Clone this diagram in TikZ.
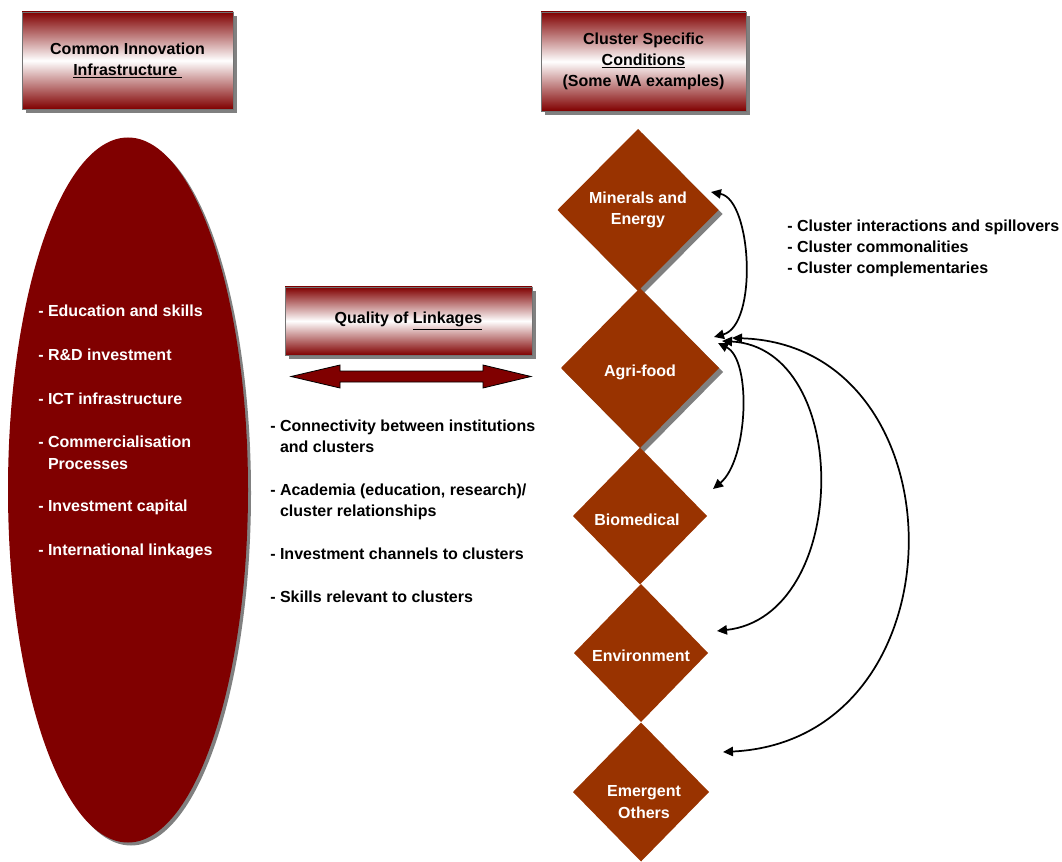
\documentclass[tikz,border=0pt]{standalone}
\usepackage{fontspec}
\setmainfont{Liberation Sans}
\usetikzlibrary{shapes.geometric,arrows.meta,shadows,calc}
\definecolor{maroonfill}{RGB}{128,0,0}
\definecolor{rust}{RGB}{153,51,0}
\definecolor{shadowgray}{RGB}{128,128,128}
\begin{document}
\begin{tikzpicture}[x=0.75pt,y=-0.75pt,
  font=\fontsize{12pt}{16pt}\selectfont\bfseries,
  grayshadow/.style={drop shadow={opacity=1,fill=shadowgray,shadow xshift=#1,shadow yshift=-#1}},
  headbox/.style={rectangle,top color=maroonfill,bottom color=maroonfill,middle color=white,
    draw=black!55,line width=0.4pt,align=center,inner sep=0pt,grayshadow=3pt},
  cluster/.style={diamond,shape aspect=1,fill=rust,inner sep=0pt,outer sep=0pt},
  clustertext/.style={text=white,align=center,inner sep=0pt},
  item/.style={anchor=base west,inner sep=0pt},
  link/.style={{Triangle[length=7.5pt,width=7pt]}-{Triangle[length=7.5pt,width=7pt]},line width=1.3pt}]
\useasboundingbox (0,0) rectangle (1062,862);

% heading boxes
\node[headbox,minimum width=158.25pt,minimum height=72.75pt] (hinfra) at (127.5,60.5)
  {Common Innovation\\\underline{Infrastructure\ }};
\node[headbox,minimum width=153.75pt,minimum height=74.25pt] (hcluster) at (643.5,61.5)
  {Cluster Specific\\\underline{Conditions}\\(Some WA examples)};
\node[headbox,minimum width=185.25pt,minimum height=51pt] (hlink) at (408.5,321)
  {Quality of \underline{Linkages}};

% common infrastructure ellipse
\node[ellipse,fill=maroonfill,minimum width=180pt,minimum height=528.75pt,inner sep=0pt,grayshadow=2.25pt]
  (infra) at (128,490) {};
\begin{scope}[text=white]
\node[item] (e1) at (38,317) {- Education and skills};
\node[item] (e2) at (38,361) {- R\&D investment};
\node[item] (e3) at (38,404) {- ICT infrastructure};
\node[item] (e4) at (38,447) {- Commercialisation};
\node[item] (e5) at (47.8,469) {Processes};
\node[item] (e6) at (38,511) {- Investment capital};
\node[item] (e7) at (38,555) {- International linkages};
\end{scope}

% double block arrow under the linkages box
\draw[fill=maroonfill,draw=black,line width=0.6pt]
  (291,376.5) -- (340,365) -- (340,371) -- (483,371) -- (483,365) -- (531,376.5)
  -- (483,388) -- (483,382) -- (340,382) -- (340,388) -- cycle;

% linkage items
\node[item] (l1) at (270,431) {- Connectivity between institutions};
\node[item] (l2) at (279.8,452) {and clusters};
\node[item] (l3) at (270,495) {- Academia (education, research)/};
\node[item] (l4) at (279.8,516) {cluster relationships};
\node[item] (l5) at (270,559) {- Investment channels to clusters};
\node[item] (l6) at (270,602) {- Skills relevant to clusters};

% clusters
\node[cluster,minimum width=120.75pt,minimum height=121.5pt,grayshadow=3pt] (min) at (638,210) {};
\node[cluster,minimum width=118.5pt,minimum height=120pt,grayshadow=3pt] (agri) at (640,368) {};
\node[cluster,minimum width=100.5pt,minimum height=102.75pt] (bio) at (640,516) {};
\node[cluster,minimum width=100.5pt,minimum height=103.5pt] (env) at (641,653) {};
\node[cluster,minimum width=102pt,minimum height=104.25pt] (emg) at (641,792) {};
\node[clustertext] (minT) at ($(min.center)+(0,0)$) {Minerals and\\Energy};
\node[clustertext] (agriT) at ($(agri.center)+(0,4)$) {Agri-food};
\node[clustertext] (bioT) at ($(bio.center)+(-3,4)$) {Biomedical};
\node[clustertext] (envT) at ($(env.center)+(0,3)$) {Environment};
\node[clustertext] (emgT) at ($(emg.center)+(3,10)$) {Emergent\\Others};

% cluster interaction notes
\node[item] (r1) at (787,232) {- Cluster interactions and spillovers};
\node[item] (r2) at (787,253) {- Cluster commonalities};
\node[item] (r3) at (787,274) {- Cluster complementaries};

% interactions between clusters
\draw[link] ($(min.east)+(-7.5,-18)$) .. controls +(41,8) and +(44,-12) .. ($(agri.east)+(-5,-31)$);
\draw[link] ($(agri.east)+(-1,-25)$) .. controls +(34,17) and +(35,-29) .. ($(bio.east)+(6,-27)$);
\draw[link] ($(agri.east)+(3,-27)$) .. controls +(131,7) and +(134,-15) .. ($(env.east)+(9,-22)$);
\draw[link] ($(agri.east)+(13,-30)$) .. controls +(233,7) and +(244,-12) .. ($(emg.east)+(14,-40)$);
\end{tikzpicture}
\end{document}
